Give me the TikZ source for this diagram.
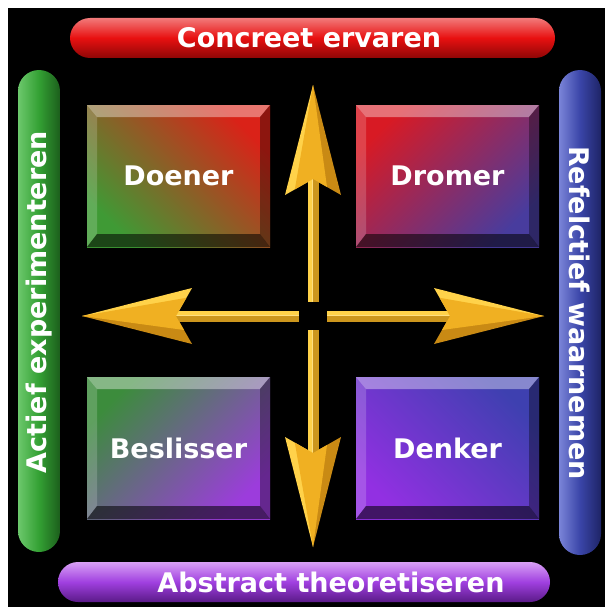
\documentclass[tikz,border=0pt]{standalone}
\usepackage{fontspec}
\setmainfont{DejaVu Sans}
\usetikzlibrary{calc}
\definecolor{goldbase}{HTML}{F0B022}
\definecolor{goldlight}{HTML}{FFD24A}
\definecolor{golddark}{HTML}{C98A14}
\definecolor{redlt}{HTML}{F27A7A}
\definecolor{redbase}{HTML}{E81010}
\definecolor{reddk}{HTML}{8E0606}
\definecolor{grnlt}{HTML}{6CC86C}
\definecolor{grnbase}{HTML}{33A033}
\definecolor{grndk}{HTML}{1C5E1C}
\definecolor{blult}{HTML}{7A84D8}
\definecolor{blubase}{HTML}{3A45A8}
\definecolor{bludk}{HTML}{1E2466}
\definecolor{purlt}{HTML}{D9A0F5}
\definecolor{purbase}{HTML}{A040E0}
\definecolor{purdk}{HTML}{5A1A88}
\definecolor{bxgreen}{HTML}{3F9A35}
\definecolor{bxred}{HTML}{DA2218}
\definecolor{bxred2}{HTML}{D81A24}
\definecolor{bxblue}{HTML}{483C9E}
\definecolor{bxgreen2}{HTML}{3C8C3C}
\definecolor{bxpurple}{HTML}{9C3CDC}
\definecolor{bxpurple2}{HTML}{9230E2}
\definecolor{bxblue2}{HTML}{3E40B0}
\newcommand\bevelbox[1]{%
  \fill[white,opacity=.38] (#1.north west) -- (#1.north east) -- ([shift={(-10,12)}]#1.north east) -- ([shift={(10,12)}]#1.north west) -- cycle;
  \fill[white,opacity=.18] (#1.north west) -- ([shift={(10,12)}]#1.north west) -- ([shift={(10,-13)}]#1.south west) -- (#1.south west) -- cycle;
  \fill[black,opacity=.55] (#1.south west) -- ([shift={(10,-13)}]#1.south west) -- ([shift={(-10,-13)}]#1.south east) -- (#1.south east) -- cycle;
  \fill[black,opacity=.35] (#1.south east) -- ([shift={(-10,-13)}]#1.south east) -- ([shift={(-10,12)}]#1.north east) -- (#1.north east) -- cycle;
}
\begin{document}
\begin{tikzpicture}[x=1pt,y=-1pt,
  lbl/.style={text=white, font=\fontsize{27}{30}\selectfont\bfseries, inner sep=0pt},
  boxlbl/.style={text=white, font=\fontsize{27}{30}\selectfont\bfseries},
  box/.style={minimum width=183pt, minimum height=142pt, inner sep=0pt, outer sep=0pt},
  hbar/.style={minimum height=40pt, rounded corners=20pt, inner sep=0pt, outer sep=0pt},
  vbar/.style={minimum width=42pt, rounded corners=21pt, inner sep=0pt, outer sep=0pt}]
\useasboundingbox (0,0) rectangle (605,610);
\fill[white] (0,0) rectangle (605,610);
\fill[black] (8,8) rectangle (605,607);

% side bars
\node[hbar, minimum width=485pt, top color=redlt, bottom color=reddk, middle color=redbase] (ce) at (312.5,38) {};
\node[hbar, minimum width=492pt, top color=purlt, bottom color=purdk, middle color=purbase] (at) at (304,582) {};
\node[vbar, minimum height=482pt, left color=grnlt, right color=grndk, middle color=grnbase] (ae) at (39,311) {};
\node[vbar, minimum height=485pt, left color=blult, right color=bludk, middle color=blubase] (rw) at (580,312.5) {};

\node[lbl] (tce) at (309,38) {Concreet ervaren};
\node[lbl] (tat) at (331,582) {Abstract theoretiseren};
\node[lbl, rotate=90] (tae) at (39,302) {Actief experimenteren};
\node[lbl, rotate=-90] (trw) at (580,313) {Refelctief waarnemen};

% quadrant boxes
\node[box, top color=bxred, bottom color=bxgreen, shading angle=-45] (doener) at (178.5,176) {};
\node[box, top color=bxred2, bottom color=bxblue, shading angle=45] (dromer) at (447.5,176) {};
\node[box, top color=bxgreen2, bottom color=bxpurple, shading angle=45] (beslisser) at (178.5,448) {};
\node[box, top color=bxblue2, bottom color=bxpurple2, shading angle=-45] (denker) at (447.5,448) {};
\bevelbox{doener}
\bevelbox{dromer}
\bevelbox{beslisser}
\bevelbox{denker}
\node[boxlbl] at (doener) {Doener};
\node[boxlbl] at (dromer) {Dromer};
\node[boxlbl] at (beslisser) {Beslisser};
\node[boxlbl] at (denker) {Denker};

% golden arrows from the centre
\coordinate (c) at (313,316);
\foreach \n/\ang/\ls in {up/90/-1, right/0/-1, left/180/1, down/-90/1} {
  \begin{scope}[shift={(c)}, rotate=\ang]
    \coordinate (\n-tail) at (14,0);
    \coordinate (\n-tip) at (231,0);
    \coordinate (\n-notch) at (137,0);
    \coordinate (\n-wl) at (121,{28*\ls});
    \coordinate (\n-wd) at (121,{-28*\ls});
    \fill[goldlight] (\n-tail) rectangle (140,{5.5*\ls});
    \fill[goldbase!85!black] (\n-tail) rectangle (140,{-5.5*\ls});
    \fill[goldlight!70!white] (\n-tail) rectangle (140,{1.5*\ls});
    \fill[goldlight] (\n-tip) -- (\n-wl) -- (\n-notch) -- cycle;
    \fill[golddark] (\n-tip) -- (\n-wd) -- (\n-notch) -- cycle;
    \fill[goldbase] (\n-tip) -- ($(\n-wl)!0.35!(\n-notch)$) -- (\n-notch) -- ($(\n-wd)!0.5!(\n-notch)$) -- cycle;
  \end{scope}
}
\end{tikzpicture}
\end{document}
